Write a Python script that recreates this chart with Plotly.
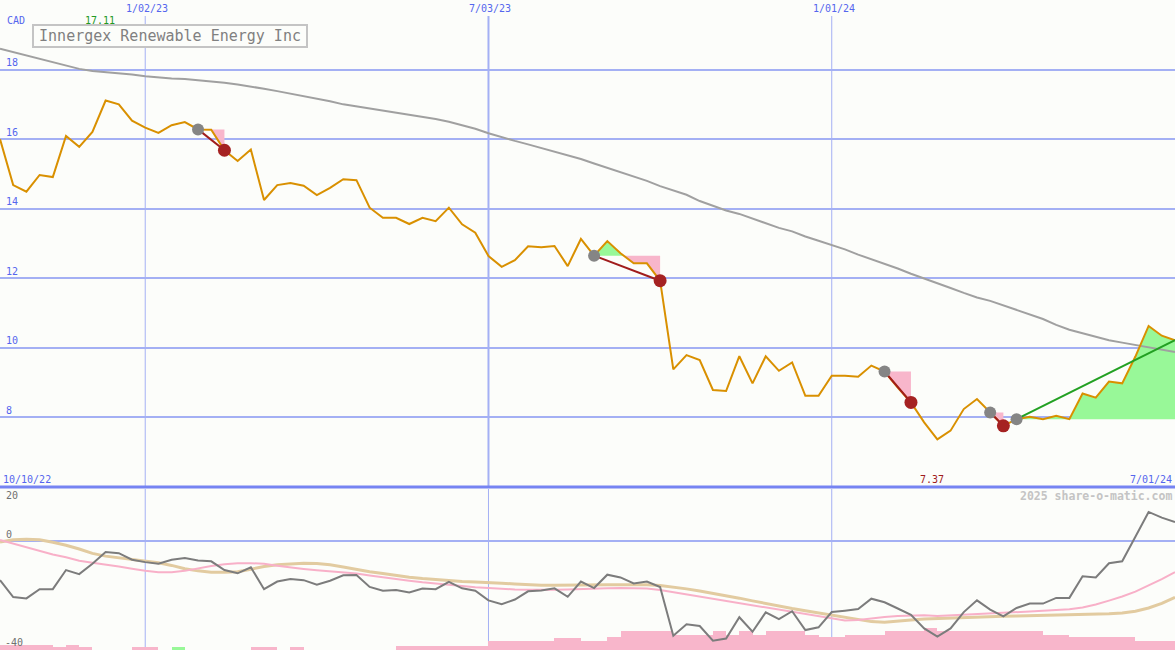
import pandas as pd
import plotly.graph_objects as go

# ---------------- data ----------------
start_date = "2022-10-17"
n_weeks = 90
dates = list(pd.date_range(start_date, periods=n_weeks, freq="7D"))

price = [16.00, 14.68, 14.49, 14.97, 14.91, 16.09, 15.78, 16.21, 17.11, 17.00,
         16.53, 16.33, 16.18, 16.40, 16.49, 16.28, 16.27, 15.68, 15.37, 15.70,
         14.25, 14.68, 14.74, 14.66, 14.39, 14.60, 14.85, 14.82, 14.03, 13.74,
         13.74, 13.56, 13.74, 13.64, 14.03, 13.55, 13.31, 12.64, 12.33, 12.52,
         12.92, 12.89, 12.93, 12.35, 13.13, 12.65, 13.07, 12.72, 12.43, 12.43,
         11.93, 9.38, 9.79, 9.65, 8.79, 8.76, 9.76, 8.98, 9.76, 9.34,
         9.58, 8.62, 8.62, 9.20, 9.20, 9.17, 9.49, 9.32, 8.86, 8.43,
         7.86, 7.37, 7.62, 8.24, 8.53, 8.14, 7.76, 7.95, 8.02, 7.95,
         8.05, 7.95, 8.69, 8.57, 9.03, 8.98, 9.75, 10.63, 10.35, 10.22]

ma_long = [18.60, 18.50, 18.40, 18.30, 18.20, 18.10, 18.02, 17.96, 17.93, 17.90,
           17.86, 17.81, 17.77, 17.74, 17.73, 17.70, 17.66, 17.62, 17.57, 17.52,
           17.45, 17.38, 17.31, 17.24, 17.16, 17.09, 17.00, 16.94, 16.88, 16.82,
           16.76, 16.71, 16.66, 16.58, 16.50, 16.40, 16.30, 16.17, 16.05, 15.95,
           15.85, 15.75, 15.65, 15.54, 15.43, 15.30, 15.18, 15.05, 14.93, 14.80,
           14.65, 14.52, 14.40, 14.22, 14.08, 13.95, 13.85, 13.72, 13.60, 13.45,
           13.35, 13.20, 13.08, 12.96, 12.83, 12.68, 12.55, 12.42, 12.28, 12.13,
           12.00, 11.86, 11.72, 11.58, 11.45, 11.35, 11.22, 11.08, 10.95, 10.83,
           10.66, 10.52, 10.42, 10.32, 10.22, 10.15, 10.08, 10.02, 9.95, 9.88]

osc = [-14.4, -20.6, -21.1, -17.7, -17.7, -10.7, -12.2, -8.4, -4.1, -4.5,
       -6.9, -7.8, -8.4, -6.9, -6.3, -7.2, -7.5, -10.7, -11.9, -9.7,
       -17.7, -14.9, -14.0, -14.4, -16.1, -14.6, -12.6, -12.5, -16.9, -18.3,
       -18.0, -18.9, -17.5, -17.7, -15.0, -17.4, -18.3, -21.8, -23.2, -21.5,
       -18.5, -18.2, -17.4, -20.5, -14.9, -17.3, -12.4, -13.4, -15.6, -14.9,
       -16.9, -34.8, -30.6, -31.2, -36.6, -35.8, -28.0, -33.3, -26.2, -28.7,
       -25.8, -32.7, -31.7, -26.1, -25.6, -25.0, -21.2, -22.5, -24.8, -27.1,
       -32.1, -35.1, -32.1, -26.1, -21.8, -25.2, -27.7, -24.6, -23.0, -23.0,
       -20.9, -20.9, -13.0, -13.4, -8.2, -7.5, 1.5, 10.6, 8.5, 6.9]

osc_fast = [0.3, -1.0, -2.3, -3.6, -5.0, -6.0, -7.3, -8.0, -8.6, -9.4,
            -10.2, -11.0, -11.5, -11.5, -11.0, -10.1, -9.2, -8.6, -8.2, -8.2,
            -8.4, -9.1, -9.8, -10.3, -10.8, -11.2, -11.5, -12.0, -12.7, -13.4,
            -14.0, -14.6, -15.2, -15.7, -16.2, -16.6, -17.0, -17.3, -17.6, -17.8,
            -17.9, -18.0, -17.9, -17.8, -17.6, -17.5, -17.4, -17.3, -17.4, -17.5,
            -18.0, -18.8, -19.6, -20.4, -21.3, -22.2, -23.0, -23.8, -24.6, -25.4,
            -26.2, -27.0, -27.8, -28.6, -29.2, -29.0, -28.4, -27.9, -27.5, -27.3,
            -27.3, -27.5, -27.3, -27.0, -26.7, -26.5, -26.3, -26.1, -25.9, -25.6,
            -25.4, -25.1, -24.4, -23.3, -21.9, -20.4, -18.6, -16.4, -14.0, -11.5]

osc_slow = [-0.4, 0.4, 0.6, 0.4, -0.5, -1.6, -3.0, -4.6, -5.6, -6.2,
            -6.8, -7.3, -8.0, -9.0, -10.2, -11.0, -11.5, -11.5, -11.3, -10.4,
            -9.4, -8.8, -8.5, -8.2, -8.3, -8.8, -9.6, -10.5, -11.3, -12.0,
            -12.7, -13.3, -13.8, -14.2, -14.6, -14.9, -15.1, -15.2, -15.5, -15.8,
            -16.1, -16.3, -16.3, -16.2, -16.1, -16.1, -16.1, -16.1, -16.1, -16.1,
            -16.4, -16.9, -17.6, -18.4, -19.2, -20.0, -21.0, -22.0, -23.0, -24.0,
            -24.8, -25.6, -26.4, -27.2, -28.0, -29.0, -29.6, -29.8, -29.5, -29.0,
            -28.6, -28.4, -28.2, -28.0, -27.8, -27.7, -27.6, -27.5, -27.4, -27.3,
            -27.2, -27.1, -27.0, -26.9, -26.7, -26.4, -25.8, -24.6, -22.9, -20.7]

bar_h = [1.9, 1.9, 1.9, 1.9, 1.1, 1.9, 1.1, 0, 0, 0,
         1.1, 1.1, 0, 1.1, 0, 0, 0, 0, 0, 1.1,
         1.1, 0, 1.1, 0, 0, 0, 0, 0, 0, 0,
         1.5, 1.5, 1.5, 1.5, 1.5, 1.5, 1.5, 3.4, 3.4, 3.4,
         3.4, 3.4, 4.5, 4.5, 3.4, 3.4, 4.6, 7.1, 7.1, 7.1,
         7.1, 5.6, 5.6, 5.6, 7.1, 5.6, 7.1, 5.6, 7.1, 7.1,
         7.1, 5.6, 4.6, 4.6, 5.6, 5.6, 5.6, 7.1, 7.1, 7.1,
         8.1, 7.1, 7.1, 7.1, 7.1, 7.1, 7.1, 7.1, 7.1, 5.6,
         5.6, 4.6, 4.6, 4.6, 4.6, 4.6, 3.4, 3.4, 3.4, 3.4]
bar_green_idx = [13]

# trades: entry week index, exit week index (last one still open)
trade_entry = [15, 45, 67, 75, 77]
trade_exit = [17, 50, 69, 76, 89]
trade_open = [False, False, False, False, True]

grid_dates = ["2023-01-02", "2023-07-03", "2024-01-01"]
grid_labels = ["1/02/23", "7/03/23", "1/01/24"]
grid_widths = [1, 2, 1]
price_ticks = [8, 10, 12, 14, 16, 18]

# ---------------- styling ----------------
W, H = 1175, 650
BG = "#fcfdfa"
BLUE_TXT = "#5566ee"
GRID = "#a4b0f4"
SEP = "#7684f2"
ORANGE = "#d99000"
GREEN_FILL = "#98f898"
PINK_FILL = "#f8b6cb"
MONO = "DejaVu Sans Mono"
main_bottom_px = 487
sub_top_px = 489

WEEK = pd.Timedelta(days=7)


def py(px):
    return 1 - px / H


fig = go.Figure()

# trade fills (green above entry, pink below)
for e, x_ in zip(trade_entry, trade_exit):
    level = price[e]
    xs, ys = [], []
    for i in range(e, x_ + 1):
        if i > e:
            p0, p1 = price[i - 1] - level, price[i] - level
            if p0 * p1 < 0:
                f = p0 / (p0 - p1)
                xs.append(dates[i - 1] + f * WEEK)
                ys.append(level)
        xs.append(dates[i])
        ys.append(price[i])
    up = [max(v, level) for v in ys]
    dn = [min(v, level) for v in ys]
    for arr, col in ((up, GREEN_FILL), (dn, PINK_FILL)):
        fig.add_trace(go.Scatter(x=xs, y=[level] * len(xs), mode="lines",
                                 line=dict(width=0), hoverinfo="skip",
                                 xaxis="x", yaxis="y"))
        fig.add_trace(go.Scatter(x=xs, y=arr, mode="lines", line=dict(width=0),
                                 fill="tonexty", fillcolor=col, hoverinfo="skip",
                                 xaxis="x", yaxis="y"))

# long moving average
fig.add_trace(go.Scatter(x=dates, y=ma_long, mode="lines",
                         line=dict(color="#a0a0a0", width=2), xaxis="x", yaxis="y"))
# price
fig.add_trace(go.Scatter(x=dates, y=price, mode="lines",
                         line=dict(color=ORANGE, width=2), xaxis="x", yaxis="y"))

# trade lines and dots
for e, x_, op in zip(trade_entry, trade_exit, trade_open):
    col = "#22a022" if op else "#a01c1c"
    fig.add_trace(go.Scatter(x=[dates[e], dates[x_]], y=[price[e], price[x_]],
                             mode="lines", line=dict(color=col, width=2),
                             xaxis="x", yaxis="y"))
for e, x_, op in zip(trade_entry, trade_exit, trade_open):
    fig.add_trace(go.Scatter(x=[dates[e]], y=[price[e]], mode="markers",
                             marker=dict(color="#858585", size=12),
                             xaxis="x", yaxis="y"))
    if not op:
        fig.add_trace(go.Scatter(x=[dates[x_]], y=[price[x_]], mode="markers",
                                 marker=dict(color="#a52222", size=13),
                                 xaxis="x", yaxis="y"))

# lower panel bars
bar_cols = [GREEN_FILL if i in bar_green_idx else PINK_FILL for i in range(n_weeks)]
fig.add_trace(go.Bar(x=dates, y=bar_h, base=-40, marker=dict(color=bar_cols, line=dict(width=0)),
                     width=WEEK.total_seconds() * 1000, offset=0,
                     xaxis="x2", yaxis="y2"))
fig.add_trace(go.Scatter(x=dates, y=osc_slow, mode="lines",
                         line=dict(color="#e2cba0", width=3), xaxis="x2", yaxis="y2"))
fig.add_trace(go.Scatter(x=dates, y=osc_fast, mode="lines",
                         line=dict(color="#f8b0c8", width=2), xaxis="x2", yaxis="y2"))
fig.add_trace(go.Scatter(x=dates, y=osc, mode="lines",
                         line=dict(color="#7c7c7c", width=2), xaxis="x2", yaxis="y2"))

# ---------------- shapes ----------------
shapes = []
for d, w in zip(grid_dates, grid_widths):
    shapes.append(dict(type="line", xref="x", yref="paper", x0=d, x1=d,
                       y0=py(main_bottom_px), y1=py(16), layer="below",
                       line=dict(color=GRID, width=w)))
    shapes.append(dict(type="line", xref="x", yref="paper", x0=d, x1=d,
                       y0=0, y1=py(sub_top_px), layer="below",
                       line=dict(color=GRID, width=1)))
shapes.append(dict(type="line", xref="paper", yref="paper", x0=0, x1=1,
                   y0=py(main_bottom_px), y1=py(main_bottom_px),
                   line=dict(color=SEP, width=3)))

# ---------------- annotations ----------------
anns = []


def ann(text, x, y, xanchor="left", color=BLUE_TXT, size=10, bold=False, **kw):
    t = f"<b>{text}</b>" if bold else text
    anns.append(dict(text=t, x=x / W, y=py(y), xref="paper", yref="paper",
                     xanchor=xanchor, yanchor="middle", showarrow=False,
                     font=dict(family=MONO, size=size, color=color), **kw))


ann("CAD", 5, 21)
ann(f"{max(price):.2f}", 100, 21, xanchor="center", color="#229922")
for d, lab in zip(grid_dates, grid_labels):
    xd = (pd.Timestamp(d) - dates[0]) / (dates[-1] - dates[0]) * W
    ann(lab, xd + 2, 9, xanchor="center")
for v in price_ticks:
    ypx = (20 - v) / 14 * main_bottom_px
    ann(str(v), 4, ypx - 7)
ann("10/10/22", 1, 479)
ann("7/01/24", 1174, 479, xanchor="right")
ann(f"{min(price):.2f}", 932, 479, xanchor="center", color="#a01c1c")
ann("2025 share-o-matic.com", 1174, 496, xanchor="right", color="#c4c4c4", size=11.5, bold=True)
ann("20", 4, 495, color="#707070")
ann("0", 4, 534, color="#707070")
ann("-40", 3, 642, color="#707070")
anns.append(dict(text="Innergex Renewable Energy Inc", x=170 / W, y=py(36),
                 xref="paper", yref="paper", xanchor="center", yanchor="middle",
                 showarrow=False, font=dict(family=MONO, size=15, color="#808080"),
                 width=268, height=16,
                 bordercolor="#c4c4c4", borderwidth=2, borderpad=2, bgcolor=BG))

# ---------------- layout ----------------
xr = [dates[0], dates[-1]]
fig.update_layout(
    width=W, height=H, margin=dict(l=0, r=0, t=0, b=0),
    paper_bgcolor=BG, plot_bgcolor=BG, showlegend=False, bargap=0,
    xaxis=dict(range=xr, domain=[0, 1], visible=False, anchor="y"),
    xaxis2=dict(range=xr, domain=[0, 1], visible=False, anchor="y2", matches="x"),
    yaxis=dict(range=[6, 20], domain=[py(main_bottom_px), 1], tickvals=price_ticks,
               showgrid=True, gridcolor=GRID, gridwidth=2, showticklabels=False,
               zeroline=False, showline=False, ticks=""),
    yaxis2=dict(range=[-40, 19], domain=[0, py(sub_top_px)], tickvals=[0],
                showgrid=True, gridcolor=GRID, gridwidth=2, showticklabels=False,
                zeroline=False, showline=False, ticks=""),
    shapes=shapes, annotations=anns,
)

fig.write_html("out.html", config={"displayModeBar": False},
               post_script="document.body.style.margin='0';document.body.style.padding='0';"
                           "document.body.style.overflow='hidden';")
